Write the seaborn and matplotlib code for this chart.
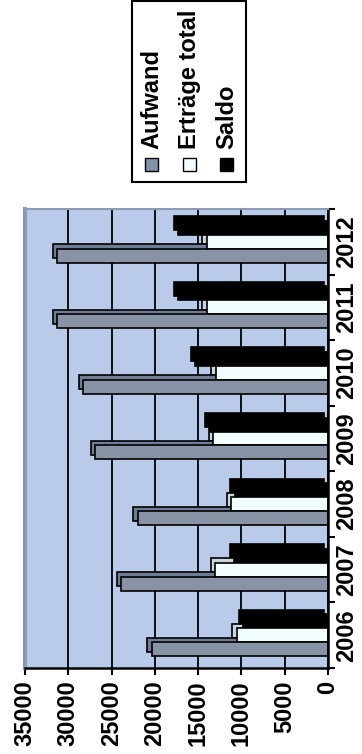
import pandas as pd
import seaborn as sns
import matplotlib.pyplot as plt
from matplotlib.colors import to_rgb
from matplotlib.patches import Rectangle
from matplotlib.transforms import ScaledTranslation

# Werte
jahre = ["2006", "2007", "2008", "2009", "2010", "2011", "2012"]
aufwand = [20350, 23900, 21950, 26900, 28300, 31300, 31300]
ertraege = [10550, 13050, 11150, 13250, 12950, 14000, 14000]
saldo = [9800, 10850, 10800, 13650, 15350, 17300, 17300]
serien = ["Aufwand", "Erträge total", "Saldo"]
farben = {"Aufwand": "#8392AB", "Erträge total": "#F0FFFF", "Saldo": "#000000"}
schatten = {"Aufwand": "#6F7E96", "Erträge total": "#C9D6E0", "Saldo": "#000000"}
ticks = [0, 5000, 10000, 15000, 20000, 25000, 30000, 35000]

df = pd.DataFrame({
    "Jahr": jahre * 3,
    "Serie": ["Aufwand"] * 7 + ["Erträge total"] * 7 + ["Saldo"] * 7,
    "Wert": aufwand + ertraege + saldo,
})

plt.rcParams["font.family"] = ["Liberation Sans", "DejaVu Sans"]
plt.rcParams["font.weight"] = "bold"

W, H = 362, 754
fig = plt.figure(figsize=(W / 100, H / 100), dpi=100)

def fx(px):
    return px / W

def fy(py):
    return 1 - py / H

# Achse: x = Werte (0 rechts), y = Jahre (2006 unten)
ax = fig.add_axes([fx(25), fy(668), fx(328) - fx(25), fy(209) - fy(668)])
ax.set_facecolor("#BACBE9")

sns.barplot(data=df, y="Jahr", x="Wert", hue="Serie", orient="h",
            order=jahre[::-1], hue_order=["Saldo", "Erträge total", "Aufwand"],
            palette=farben, width=0.64, edgecolor="black", linewidth=1.2,
            legend=False, ax=ax)

# einfacher 3D-Effekt: versetzte Kopie hinter jedem Balken
off = ScaledTranslation(-0.045, 0.045, fig.dpi_scale_trans)
for p in list(ax.patches):
    fc = p.get_facecolor()
    key = [k for k, v in farben.items()
           if max(abs(a - b) for a, b in zip(to_rgb(v), fc[:3])) < 0.02]
    col = schatten[key[0]] if key else "gray"
    r = Rectangle(p.get_xy(), p.get_width(), p.get_height(),
                  transform=ax.transData + off, facecolor=col,
                  edgecolor="black", linewidth=1.2, zorder=0.9)
    ax.add_patch(r)
    p.set_zorder(1.5)

ax.set_xlim(35000, 0)
ax.set_ylim(6.5, -0.5)
ax.set_xticks(ticks)
ax.set_xticklabels([str(t) for t in ticks], rotation=90, fontsize=17,
                   fontweight="bold", va="top")
ax.xaxis.grid(True, color="black", linewidth=1.3)
ax.set_axisbelow(True)
ax.yaxis.tick_right()
ax.set_yticks([i + 0.5 for i in range(-1, 7)], minor=False)
ax.set_yticklabels([])
ax.set_yticks(range(7), minor=True)
ax.set_yticklabels(jahre[::-1], minor=True, rotation=90, fontsize=17,
                   fontweight="bold", va="center", ha="left")
ax.tick_params(axis="y", which="minor", length=0, pad=5)
ax.tick_params(axis="y", which="major", direction="out", length=5, width=1.5)
ax.tick_params(axis="x", direction="out", length=5, width=1.5, pad=4)
ax.set_xlabel("")
ax.set_ylabel("")

for s in ["top", "left"]:
    ax.spines[s].set_color("#8C9BB3")
ax.spines["left"].set_linewidth(3)
ax.spines["top"].set_linewidth(1.5)
ax.spines["bottom"].set_linewidth(1.8)
ax.spines["right"].set_linewidth(1.8)

# Legende (gedreht, von Hand gezeichnet)
fig.add_artist(Rectangle((fx(132), fy(182)), fx(246) - fx(132), fy(1) - fy(182),
                         transform=fig.transFigure, facecolor="white",
                         edgecolor="black", linewidth=1.5))
for i, name in enumerate(serien):
    xc = 151.5 + i * 37.5
    fig.add_artist(Rectangle((fx(xc - 6.5), fy(171)), fx(13), 13 / H,
                             transform=fig.transFigure, facecolor=farben[name],
                             edgecolor="black", linewidth=1))
    fig.text(fx(xc), fy(149), name, rotation=90, ha="center", va="bottom",
             fontsize=17, fontweight="bold")

fig.savefig("out.png", dpi=100)
